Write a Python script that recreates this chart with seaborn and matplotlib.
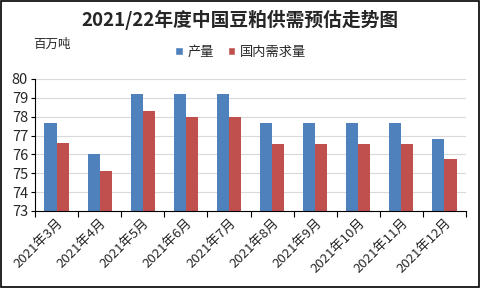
import numpy as np
import pandas as pd
import matplotlib
matplotlib.use("Agg")
import matplotlib.pyplot as plt
import seaborn as sns
from matplotlib.patches import Rectangle, Patch

months = ["2021年3月", "2021年4月", "2021年5月", "2021年6月", "2021年7月",
          "2021年8月", "2021年9月", "2021年10月", "2021年11月", "2021年12月"]
production = [77.65, 76.0, 79.2, 79.2, 79.2, 77.65, 77.65, 77.65, 77.65, 76.8]
demand = [76.6, 75.1, 78.3, 78.0, 78.0, 76.55, 76.55, 76.55, 76.55, 75.75]
series_names = ["产量", "国内需求量"]
title = "2021/22年度中国豆粕供需预估走势图"
unit = "百万吨"

sns.set_theme(style="white")
plt.rcParams['font.family'] = ['Noto Sans CJK SC', 'DejaVu Sans']

df = pd.DataFrame({
    "month": months * 2,
    "value": production + demand,
    "series": [series_names[0]] * len(months) + [series_names[1]] * len(months),
})

fig = plt.figure(figsize=(4.8, 2.88), dpi=100)
ax = fig.add_axes([35 / 480, 1 - 211 / 288, (466 - 35) / 480, (211 - 79) / 288])

sns.barplot(data=df, x="month", y="value", hue="series",
            palette=["#4F81BD", "#C0504D"], width=0.56, ax=ax,
            saturation=1, legend=False, linewidth=0, edgecolor="none")

ax.set_ylim(73, 80)
ax.set_xlim(-0.5, len(months) - 0.5)
ax.set_yticks(np.arange(73, 81, 1))
ax.yaxis.grid(True, color="#D9D9D9", linewidth=0.8)
ax.set_axisbelow(True)
ax.set_xlabel("")
ax.set_ylabel("")

for side in ["top", "right"]:
    ax.spines[side].set_visible(False)
for side in ["left", "bottom"]:
    ax.spines[side].set_color("black")
    ax.spines[side].set_linewidth(0.8)

ax.set_xticks(np.arange(len(months)))
ax.set_xticklabels(months, rotation=45, ha="right", rotation_mode="anchor", fontsize=9.5)
ax.tick_params(axis="x", which="major", length=0, pad=4)
ax.set_xticks(np.arange(-0.5, len(months), 1), minor=True)
ax.tick_params(axis="x", which="minor", length=4, width=0.8, color="black", direction="out", bottom=True)
ax.tick_params(axis="y", length=3, width=0.8, color="black", direction="out", left=True, labelsize=10.5, pad=2)

fig.text(240 / 480, 1 - 20 / 288, title, ha="center", va="center",
         fontsize=13.5, fontweight="bold")
fig.text(33 / 480, 1 - 44 / 288, unit, ha="left", va="center", fontsize=9)

handles = [Patch(facecolor="#4F81BD"), Patch(facecolor="#C0504D")]
fig.legend(handles, series_names, loc="center", bbox_to_anchor=(241 / 480, 1 - 52 / 288),
           ncol=2, frameon=False, fontsize=9.5, handlelength=0.55, handleheight=0.55,
           handletextpad=0.4, columnspacing=1.0)

fig.patches.append(Rectangle((0.002, 0.003), 0.996, 0.994, transform=fig.transFigure,
                             fill=False, edgecolor="black", linewidth=1.2))

fig.savefig("out.png", dpi=100)
